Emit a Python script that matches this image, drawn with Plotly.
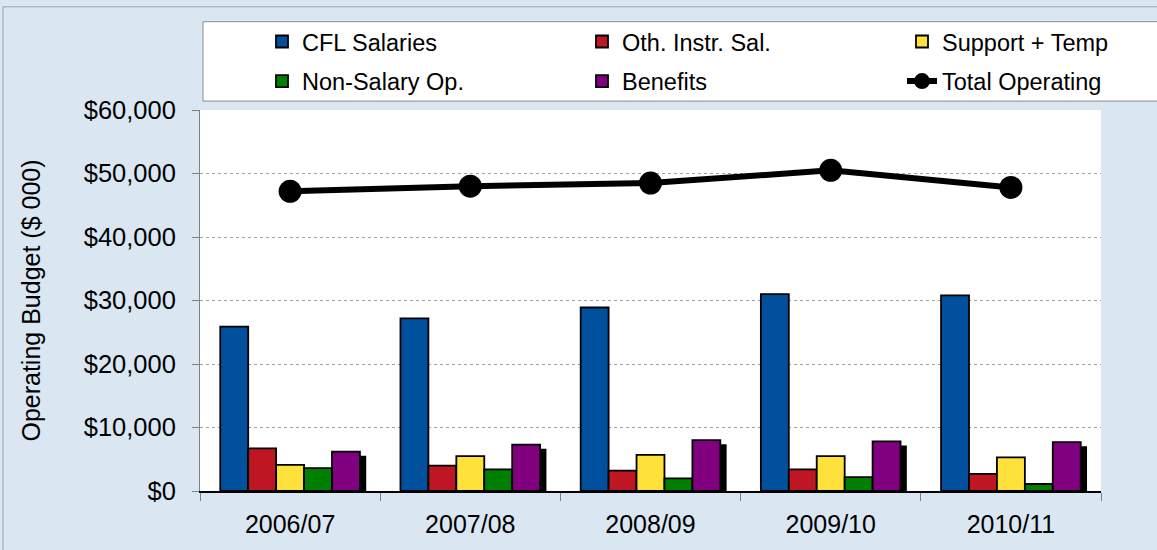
import plotly.graph_objects as go

categories = ["2006/07", "2007/08", "2008/09", "2009/10", "2010/11"]
cfl_salaries = [25900, 27200, 28900, 31000, 30800]
oth_instr_sal = [6700, 4000, 3200, 3400, 2700]
support_temp = [4100, 5500, 5700, 5500, 5300]
non_salary_op = [3600, 3400, 2000, 2200, 1100]
benefits = [6200, 7300, 8000, 7800, 7700]
total_operating = [47200, 48000, 48500, 50500, 47800]
y_ticks = [0, 10000, 20000, 30000, 40000, 50000, 60000]
y_ticktext = ["$0", "$10,000", "$20,000", "$30,000", "$40,000", "$50,000", "$60,000"]

W, H = 1157, 550
L, R, T, B = 200, 56, 110, 56
PW, PH = W - L - R, H - T - B


def px_x(p):
    return (p - L) / PW


def px_y(p):
    return (H - B - p) / PH


FONT = "Liberation Sans, Arial, sans-serif"
bar_w = 0.155
start = -2.5 * bar_w

series = [
    ("CFL Salaries", cfl_salaries, "#00509E", "legend"),
    ("Oth. Instr. Sal.", oth_instr_sal, "#BE1622", "legend2"),
    ("Support + Temp", support_temp, "#FFE13C", "legend3"),
    ("Non-Salary Op.", non_salary_op, "#008000", "legend"),
    ("Benefits", benefits, "#800080", "legend2"),
]

fig = go.Figure()

# shadow behind the last bar of each group
fig.add_trace(go.Bar(
    x=categories, y=benefits, base=-650, width=bar_w, offset=start + 4 * bar_w + 0.035,
    marker=dict(color="black", line=dict(width=0)), showlegend=False, hoverinfo="skip",
))

for i, (name, vals, color, lg) in enumerate(series):
    fig.add_trace(go.Bar(
        x=categories, y=vals, name=name, width=bar_w, offset=start + i * bar_w,
        marker=dict(color=color, line=dict(color="black", width=1.8)),
        legend=lg, legendgroup=name,
    ))

fig.add_trace(go.Scatter(
    x=categories, y=total_operating, name="Total Operating", mode="lines+markers",
    line=dict(color="black", width=6), marker=dict(color="black", size=23),
    legend="legend3", legendgroup="Total Operating",
))

leg_common = dict(
    orientation="v", bgcolor="rgba(0,0,0,0)", borderwidth=0,
    font=dict(family=FONT, size=23.5, color="black"),
    yanchor="top", xanchor="left", tracegroupgap=6, itemwidth=30,
)

fig.update_layout(
    width=W, height=H,
    margin=dict(l=L, r=R, t=T, b=B),
    paper_bgcolor="#dae6f2",
    plot_bgcolor="white",
    barmode="overlay",
    font=dict(family=FONT, color="black"),
    legend=dict(x=px_x(262), y=px_y(19), **leg_common),
    legend2=dict(x=px_x(582), y=px_y(19), **leg_common),
    legend3=dict(x=px_x(902), y=px_y(19), **leg_common),
    xaxis=dict(
        type="category", showgrid=False, showline=True, linecolor="black", linewidth=1.5,
        ticks="outside", tickson="boundaries", ticklen=8, tickcolor="#808080",
        tickfont=dict(family=FONT, size=25), ticklabelstandoff=10,
    ),
    yaxis=dict(
        range=[0, 60000], tickvals=y_ticks, ticktext=y_ticktext,
        showgrid=True, gridcolor="#a0a0a0", griddash="dot", gridwidth=1,
        showline=True, linecolor="#808080", linewidth=1,
        ticks="outside", ticklen=7, tickcolor="#808080",
        tickfont=dict(family=FONT, size=25.5), ticklabelstandoff=11,
        zeroline=False,
        title=dict(text="Operating Budget ($ 000)", font=dict(family=FONT, size=25), standoff=35),
    ),
    shapes=[
        dict(type="rect", xref="paper", yref="paper", layer="above",
             x0=px_x(203), x1=px_x(1160), y0=px_y(101), y1=px_y(21),
             fillcolor="white", line=dict(color="#8c8c8c", width=1)),
        dict(type="rect", xref="paper", yref="paper", layer="above",
             x0=px_x(3), x1=px_x(1170), y0=px_y(560), y1=px_y(6),
             fillcolor="rgba(0,0,0,0)", line=dict(color="#9aa4ae", width=1)),
    ],
)

fig.write_html(
    "out.html",
    config={"displayModeBar": False},
    post_script="document.body.style.margin='0';document.body.style.background='#dae6f2';",
)
